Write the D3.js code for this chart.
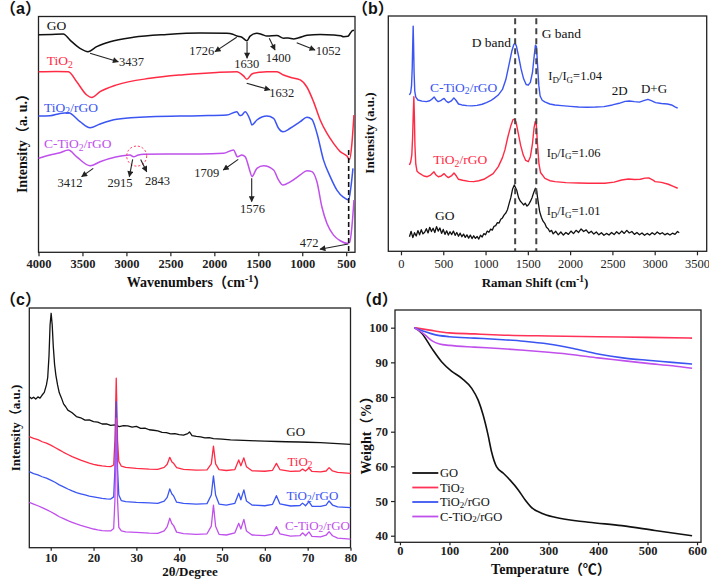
<!DOCTYPE html>
<html><head><meta charset="utf-8">
<script src="https://cdn.jsdelivr.net/npm/d3@7/dist/d3.min.js"></script>
<style>body{margin:0;background:#fff}</style>
</head><body><svg id="c" width="709" height="581"></svg>
<script>
// ---------- colours ----------
const cGO = "#111111", cTiO2 = "#ff2b45", cTrGO = "#3b55f2", cCTrGO = "#c050ec";

// ---------- (a) FTIR : [wavenumber, intensity] ----------
const ftirTicks = [4000,3500,3000,2500,2000,1500,1000,500];
const ftirGO = [[4000,92.2],[3850,92.4],[3718,92.6],[3641,90.0],[3528,86.5],[3437,85.1],[3338,87.2],[3186,89.3],[2921,91.2],[2541,92.4],[2162,93.0],[1858,92.9],[1790,92.5],[1744,91.7],[1687,91.2],[1630,89.7],[1593,91.7],[1516,92.9],[1460,92.4],[1402,91.7],[1288,91.9],[1213,90.8],[1160,90.9],[1099,90.5],[1040,91.0],[946,92.0],[796,92.4],[644,92.2],[560,91.8],[530,91.4],[480,91.6],[454,92.9],[430,94.0],[412,94.2]];
const ftirTiO2 = [[4000,76.6],[3800,76.7],[3660,76.6],[3565,72.3],[3451,66.7],[3395,65.7],[3300,68.1],[3110,71.0],[2731,73.8],[2352,75.3],[1972,76.3],[1744,76.6],[1668,74.8],[1630,73.4],[1573,75.6],[1480,76.4],[1402,76.6],[1288,76.6],[1213,75.2],[1137,74.2],[1023,73.1],[946,70.0],[872,63.9],[796,56.1],[720,50.5],[644,46.2],[568,42.7],[492,40.8],[462,39.4],[435,46.2],[412,58.2]];
const ftirTiO2rGO = [[4000,57.8],[3869,57.9],[3755,58.9],[3660,59.2],[3528,55.4],[3414,52.8],[3300,54.4],[3110,56.4],[2731,57.5],[2162,57.9],[1858,58.2],[1744,59.6],[1710,58.0],[1687,58.2],[1649,59.6],[1593,56.1],[1573,54.0],[1516,56.1],[1402,57.8],[1326,56.8],[1270,52.6],[1220,51.1],[1137,52.6],[1023,55.4],[946,57.3],[890,56.4],[833,50.5],[758,39.1],[682,32.1],[606,26.4],[530,23.3],[473,22.2],[446,27.8],[423,35.6]];
const ftirCTiO2rGO = [[4000,39.9],[3869,41.3],[3755,42.2],[3660,43.4],[3565,40.5],[3412,36.7],[3300,38.4],[3110,40.5],[2958,41.3],[2921,40.5],[2864,41.3],[2807,41.6],[2541,41.7],[2162,41.7],[1896,42.0],[1782,43.4],[1737,40.5],[1687,41.3],[1649,40.5],[1593,34.2],[1573,32.1],[1516,35.6],[1440,36.7],[1326,34.9],[1270,30.7],[1220,28.5],[1137,29.9],[1023,32.8],[946,34.6],[890,34.2],[833,29.9],[777,19.3],[720,12.3],[644,7.3],[568,4.9],[492,3.8],[462,4.1],[435,10.9],[412,22.2]];
// annotations: label, label position, arrow from, arrow to  (data units)
const ftirNotes = [
  ["3437",[2942,79.0],[3414,84.4],[3092,80.8]],
  ["1726",[2144,83.7],[1746,91.2],[1992,85.1]],
  ["1630",[1632,78.0],[1628,89.3],[1628,82.3]],
  ["1400",[1272,80.8],[1375,90.8],[1310,85.8]],
  ["1052",[704,83.7],[1063,88.9],[855,85.8]],
  ["1632",[1234,66.0],[1632,71.7],[1367,68.9]],
  ["3412",[3642,27.8],[3377,35.6],[3509,32.1]],
  ["2915",[3073,27.8],[2929,39.4],[2967,32.1]],
  ["2843",[2646,28.5],[2838,39.4],[2769,34.2]],
  ["1709",[2087,32.1],[1728,39.4],[1898,34.9]],
  ["1576",[1566,16.5],[1575,31.4],[1575,21.5]],
  ["472",[923,2.4],[476,3.5],[798,1.3]]
];
const ftirCircle = [2883,40.8];
const ftirDash = [472,43.4];

// ---------- (b) Raman ----------
const ramanTicks = [0,500,1000,1500,2000,2500,3000,3500];
const ramanGO = [[100,6.2],[120,8.5],[140,5.8],[160,7.9],[180,6.5],[200,8.8],[220,7.0],[240,9.2],[260,7.4],[280,8.1],[300,9.6],[320,7.8],[340,10.2],[360,8.4],[380,9.8],[400,8.0],[420,10.5],[440,8.6],[460,9.9],[480,7.6],[500,9.3],[520,7.2],[540,8.7],[560,6.9],[580,8.3],[600,7.1],[620,8.6],[640,6.8],[660,8.0],[680,6.4],[700,7.7],[720,6.2],[740,7.3],[760,5.9],[780,7.0],[800,5.6],[820,6.9],[840,5.4],[860,6.6],[880,5.5],[900,6.3],[920,5.2],[940,6.8],[960,6.1],[980,7.5],[1000,7.0],[1020,8.6],[1040,8.1],[1060,9.4],[1080,9.0],[1100,10.6],[1120,10.9],[1140,12.2],[1160,12.0],[1180,13.6],[1200,14.2],[1220,15.5],[1240,16.3],[1260,17.8],[1280,20.5],[1300,23.0],[1320,26.5],[1340,28.2],[1355,27.0],[1370,25.8],[1390,22.8],[1410,21.4],[1430,20.6],[1450,19.7],[1470,20.4],[1490,19.2],[1510,19.9],[1530,21.2],[1550,22.8],[1570,25.0],[1590,26.8],[1605,25.5],[1620,21.5],[1640,16.8],[1660,14.5],[1680,12.8],[1700,11.9],[1720,10.2],[1740,9.6],[1760,8.3],[1780,8.9],[1800,7.4],[1830,8.5],[1860,7.0],[1890,8.2],[1920,6.9],[1950,8.0],[1980,7.2],[2010,8.6],[2040,7.5],[2070,8.9],[2100,8.0],[2130,9.5],[2160,8.4],[2190,9.1],[2220,7.7],[2250,8.5],[2280,7.3],[2310,8.2],[2340,7.0],[2370,7.9],[2400,6.8],[2430,7.6],[2460,6.9],[2490,8.0],[2520,7.1],[2550,8.3],[2580,7.4],[2610,8.6],[2640,7.6],[2670,8.9],[2700,7.8],[2730,8.4],[2760,7.2],[2790,8.0],[2820,7.0],[2850,7.8],[2880,6.8],[2910,7.6],[2940,6.9],[2970,7.9],[3000,7.1],[3030,8.2],[3060,7.3],[3090,7.9],[3120,7.0],[3150,7.6],[3180,6.9],[3210,7.7],[3240,7.2],[3270,8.4],[3290,7.9]];
const ramanTiO2rGO = [[100,36.7],[115,38.0],[128,41],[137,48],[145,58],[152,65.7],[158,58],[165,45],[175,37],[190,34],[220,33.1],[270,32.0],[310,31.7],[350,32.4],[372,33.2],[390,33.8],[415,32.4],[441,31.7],[475,32.0],[495,32.6],[510,33.0],[535,32.0],[560,31.3],[600,32.2],[627,33.3],[655,32.0],[680,30.6],[730,30.2],[800,29.7],[860,29.6],[920,30.0],[980,30.6],[1032,31.7],[1090,33.0],[1151,36.0],[1200,39.8],[1229,43.1],[1265,48.8],[1300,53.5],[1325,56.0],[1340,56.2],[1360,55.0],[1387,50.1],[1415,45.0],[1446,40.9],[1475,38.6],[1505,38.1],[1530,40.2],[1555,45.8],[1573,52.3],[1588,55.2],[1600,54.0],[1616,44.5],[1632,37.0],[1650,33.5],[1702,31.0],[1760,30.0],[1821,29.6],[1950,29.2],[2100,29.0],[2215,28.9],[2412,28.9],[2520,29.4],[2610,30.3],[2690,30.7],[2760,30.5],[2830,30.6],[2885,31.1],[2930,31.2],[2980,30.3],[3004,29.6],[3080,29.3],[3161,28.5],[3220,27.6],[3272,26.8]];
const ramanCTiO2rGO = [[100,66.4],[115,67.5],[125,70.5],[133,78],[139,88],[144,95.7],[149,88],[155,76],[163,68],[175,65.5],[200,64.3],[250,63.8],[300,63.6],[340,64.0],[370,64.8],[392,65.6],[415,64.4],[440,63.6],[470,64.0],[490,64.6],[510,65.0],[530,64.0],[560,63.2],[595,63.9],[625,65.2],[650,64.2],[680,62.6],[720,62.2],[780,61.9],[840,61.8],[900,62.0],[960,62.5],[1010,63.2],[1060,64.0],[1100,65.0],[1150,66.4],[1200,68.8],[1240,73.0],[1280,79.8],[1310,85.0],[1335,88.0],[1350,88.4],[1365,87.2],[1390,83.0],[1420,77.5],[1450,73.3],[1480,70.9],[1505,70.6],[1530,71.8],[1555,76.0],[1575,83.0],[1590,87.6],[1602,87.0],[1615,79.0],[1630,70.5],[1645,66.0],[1670,64.2],[1700,63.5],[1760,62.6],[1820,62.2],[1900,61.9],[2000,61.6],[2100,61.3],[2200,61.2],[2300,61.3],[2400,61.5],[2500,62.2],[2580,62.9],[2650,63.7],[2700,63.9],[2760,63.6],[2820,63.4],[2870,64.0],[2920,64.6],[2960,64.0],[3010,63.2],[3080,62.8],[3150,62.6],[3200,62.2],[3240,61.4],[3272,60.8]];
const ramanBands = [1350,1600];

// ---------- (c) XRD ----------
const xrdTicks = [10,20,30,40,50,60,70,80];
const xrdGO = [[5,63.0],[5.5,62.2],[6,62.8],[6.5,62.0],[7,62.9],[7.5,62.4],[8,63.7],[8.5,64.8],[9,67.9],[9.3,71],[9.6,80],[9.85,92.9],[10.1,97.8],[10.35,92.9],[10.6,84],[10.9,76.5],[11.2,72],[11.6,67.9],[12,64.6],[12.5,62.5],[13,60.0],[13.5,58.8],[14,57.4],[15,56.3],[16,54.7],[17,54.2],[18,53.2],[19,53.3],[20,52.6],[21,52.4],[22,51.6],[23,51.7],[24,51.0],[25,51.2],[26,50.5],[27,50.9],[28,50.8],[29,50.3],[30,50.6],[31,49.8],[32,49.9],[33,49.2],[34,49.0],[35,48.7],[36,48.1],[37,48.0],[38,47.5],[39,47.6],[40,47.2],[41,47.0],[42,47.6],[42.4,48.3],[43,46.8],[44,46.4],[45,46.2],[46,45.8],[47,45.9],[48,45.5],[50,45.3],[52,45.0],[55,44.8],[58,44.6],[60,44.5],[63,44.3],[65,44.2],[68,44.1],[70,44.0],[73,43.8],[75,43.6],[78,43.3],[80,43.1]];
const xrdTiO2 = [[5,46.3],[6,45.6],[7,45.1],[8,44.2],[9,43.6],[10,42.8],[11,41.8],[12,40.8],[13,39.8],[14,38.9],[15,38.0],[16,37.3],[17,36.5],[18,35.9],[19,35.3],[20,34.8],[21,34.4],[22,34.1],[23,33.9],[24,33.8],[24.7,34.5],[25.0,45],[25.3,70.7],[25.6,45],[25.9,36],[26.5,34.0],[27.5,33.5],[30,33.1],[33,32.8],[35,32.7],[36.5,33.5],[37.2,34.8],[37.8,37.7],[38.3,35.8],[38.7,35.2],[39.4,33.4],[41,32.7],[44,32.4],[46.5,32.5],[47.5,35],[48.0,42.4],[48.5,35],[49.3,32.6],[51,32.2],[53,32.6],[53.9,36.6],[54.4,34.2],[55.1,37.5],[55.7,33.8],[57,32.1],[60,31.9],[61.8,32.3],[62.7,35.2],[63.5,32.6],[66,31.8],[68.2,32.0],[68.8,32.8],[69.5,32.0],[70.3,33.2],[71.0,31.8],[73,31.6],[74.3,32.0],[75.0,33.4],[75.8,32.0],[77,31.4],[80,31.0]];
const xrdTiO2rGO = [[5,31.7],[6,30.9],[7,30.4],[8,29.6],[9,29.0],[10,28.2],[11,27.3],[12,26.2],[13,25.4],[14,24.5],[15,23.7],[16,23.0],[17,22.5],[18,22.0],[19,21.5],[20,21.2],[21,20.9],[22,20.6],[23,20.4],[24,20.3],[24.7,21.2],[25.0,33],[25.3,60.9],[25.6,33],[25.9,22],[26.5,19.6],[27.5,19.2],[30,18.9],[33,18.7],[35,18.5],[36.5,19.4],[37.2,21.0],[37.8,24.5],[38.3,22.4],[38.7,21.6],[39.4,19.0],[41,18.5],[44,18.2],[46.5,18.4],[47.5,22],[48.0,30.0],[48.5,22],[49.3,18.2],[51,17.8],[53,18.5],[53.9,22.7],[54.4,20.0],[55.1,24.1],[55.7,19.5],[57,17.8],[60,17.5],[61.8,18.1],[62.7,21.7],[63.5,18.3],[66,17.4],[68.2,17.6],[68.8,18.6],[69.5,17.5],[70.3,19.2],[71.0,17.3],[73,17.2],[74.3,17.8],[75.0,19.5],[75.8,17.8],[77,17.0],[80,16.7]];
const xrdCTiO2rGO = [[5,18.9],[6,18.2],[7,17.5],[8,16.7],[9,15.9],[10,15.0],[11,14.0],[12,12.9],[13,12.1],[14,11.3],[15,10.6],[16,9.9],[17,9.3],[18,8.8],[19,8.3],[20,7.8],[21,7.4],[22,7.1],[23,7.0],[24,7.0],[24.7,8.0],[25.0,20],[25.3,54.0],[25.6,20],[25.9,8.5],[26.5,7.0],[27.5,6.6],[30,6.4],[33,6.1],[35,6.0],[36.5,7.0],[37.2,8.8],[37.8,12.3],[38.3,10.0],[38.7,9.2],[39.4,6.5],[41,5.9],[44,5.6],[46.5,5.8],[47.5,9],[48.0,17.8],[48.5,9],[49.3,5.6],[51,5.3],[53,6.2],[53.9,10.2],[54.4,7.8],[55.1,11.8],[55.7,7.0],[57,5.3],[60,5.0],[61.8,5.7],[62.7,8.8],[63.5,5.8],[66,4.8],[68.2,5.0],[68.8,6.2],[69.5,5.0],[70.3,6.6],[71.0,4.7],[73,4.5],[74.3,5.2],[75.0,6.7],[75.8,5.0],[77,4.0],[80,3.6]];

// ---------- (d) TGA ----------
const tgaXTicks = [0,100,200,300,400,500,600];
const tgaYTicks = [40,50,60,70,80,90,100];
const tgaGO = [[29,100],[44,98.4],[64,94.1],[84,90.2],[104,87.5],[125,85.4],[145,82.5],[158,79.1],[168,74.8],[178,69.0],[185,64.2],[195,59.9],[209,58.0],[222,56.1],[239,53.2],[253,50.3],[266,48.1],[286,46.5],[313,45.3],[381,43.9],[448,42.9],[515,41.5],[590,40.0]];
const tgaTiO2 = [[29,100],[60,99.3],[100,98.5],[150,98.2],[200,97.9],[300,97.6],[400,97.4],[500,97.2],[590,97.0]];
const tgaTiO2rGO = [[29,100],[50,98.9],[70,98.0],[100,97.4],[150,97.0],[200,96.6],[250,96.1],[300,95.3],[350,94.0],[400,92.4],[450,91.3],[500,90.6],[550,90.0],[590,89.5]];
const tgaCTiO2rGO = [[29,100],[50,98.0],[65,96.2],[80,95.3],[100,94.9],[150,94.4],[200,94.0],[250,93.5],[300,92.9],[350,92.2],[400,91.3],[450,90.5],[500,89.7],[550,89.0],[590,88.3]];
const tgaLegend = ["GO","TiO2","TiO2/rGO","C-TiO2/rGO"];

// ================= drawing =================
const svg = d3.select("#c");
svg.append("rect").attr("width",709).attr("height",581).attr("fill","#fff");
const SERIF = "'Liberation Serif','Times New Roman','Noto Sans CJK SC',serif";
const SANS = "'Liberation Sans',Arial,'Noto Sans CJK SC',sans-serif";

svg.append("defs").append("marker").attr("id","arr")
  .attr("viewBox","0 0 10 10").attr("refX",9).attr("refY",5)
  .attr("markerWidth",7).attr("markerHeight",6).attr("markerUnits","userSpaceOnUse")
  .attr("orient","auto").append("path").attr("d","M0,0L10,5L0,10z").attr("fill","#222");

// rich text: parts = array of [string, shift] shift 0 normal, 1 subscript, -1 superscript
function rich(g, x, y, parts, o){
  const t = g.append("text").attr("x",x).attr("y",y)
    .attr("font-family",o.family||SERIF).attr("font-size",o.size||13)
    .attr("font-weight",o.weight||"normal").attr("fill",o.fill||"#111")
    .attr("text-anchor",o.anchor||"start");
  if(o.rotate) t.attr("transform",`rotate(-90,${x},${y})`);
  let cur = 0;
  const sub = o.sub===undefined ? 2.5 : o.sub;
  parts.forEach(p=>{
    const s = typeof p === "string" ? [p,0] : p;
    const target = s[1]===1 ? sub : s[1]===-1 ? -5 : 0;
    const ts = t.append("tspan").text(s[0]);
    if(target!==cur){ ts.attr("dy",target-cur); cur=target; }
    if(s[1]!==0) ts.attr("font-size",(o.size||13)*0.72);
  });
  return t;
}
function chem(name){ // "TiO2/rGO" -> parts with subscript 2
  const out=[]; const i=name.indexOf("O2");
  if(i<0) return [name];
  out.push(name.slice(0,i+1)); out.push(["2",1]); const rest=name.slice(i+2);
  if(rest) out.push(rest); return out;
}
function frame(box){
  svg.append("rect").attr("x",box.l).attr("y",box.t).attr("width",box.r-box.l).attr("height",box.b-box.t)
    .attr("fill","none").attr("stroke","#222").attr("stroke-width",1.3);
}
function xAxis(x, box, ticks, bold, pad, size){
  const g = svg.append("g").attr("transform",`translate(0,${box.b})`)
    .call(d3.axisBottom(x).tickValues(ticks).tickSize(size||4).tickSizeOuter(0).tickPadding(pad||3).tickFormat(d3.format("d")));
  g.select(".domain").remove();
  g.selectAll("line").attr("stroke","#222").attr("stroke-width",1.2);
  g.selectAll("text").attr("font-family",SERIF).attr("font-size",12.5).attr("font-weight",bold?"bold":"normal").attr("fill","#222");
}
function curve(x,y,data,color,w,curveType){
  svg.append("path").datum(data).attr("fill","none").attr("stroke",color).attr("stroke-width",w||1.4)
    .attr("stroke-linejoin","round")
    .attr("d", d3.line().x(d=>x(d[0])).y(d=>y(d[1])).curve(curveType||d3.curveLinear));
}
function panelLetter(x,y,ch){
  svg.append("text").attr("x",x).attr("y",y).attr("font-family",SANS).attr("font-weight","bold")
    .attr("font-size",16).attr("fill","#111").text("（"+ch+"）");
}

// ---------- panel (a) ----------
{
  const box = {l:38.5, r:355, t:16.5, b:252.3};
  const x = d3.scaleLinear().domain([4000,400]).range([box.l,box.r]);
  const y = d3.scaleLinear().domain([0,100]).range([box.b,box.t]);
  frame(box); xAxis(x,box,ftirTicks,true,3);
  curve(x,y,ftirGO,cGO,1.5,d3.curveMonotoneX);
  curve(x,y,ftirTiO2,cTiO2,1.5,d3.curveMonotoneX);
  curve(x,y,ftirTiO2rGO,cTrGO,1.5,d3.curveMonotoneX);
  curve(x,y,ftirCTiO2rGO,cCTrGO,1.5,d3.curveMonotoneX);
  svg.append("line").attr("x1",x(ftirDash[0])).attr("x2",x(ftirDash[0])).attr("y1",y(ftirDash[1])).attr("y2",y(0))
    .attr("stroke","#111").attr("stroke-width",1.6).attr("stroke-dasharray","5,3");
  svg.append("circle").attr("cx",x(ftirCircle[0])).attr("cy",y(ftirCircle[1])).attr("r",10)
    .attr("fill","none").attr("stroke","#ff3355").attr("stroke-width",1).attr("stroke-dasharray","2,2");
  ftirNotes.forEach(n=>{
    svg.append("line").attr("x1",x(n[2][0])).attr("y1",y(n[2][1])).attr("x2",x(n[3][0])).attr("y2",y(n[3][1]))
      .attr("stroke","#222").attr("stroke-width",1.1).attr("marker-end","url(#arr)");
    rich(svg,x(n[1][0]),y(n[1][1]),[n[0]],{size:12.5,anchor:"middle",fill:"#222"});
  });
  const g = svg.append("g");
  rich(g,x(3907),y(94.3),["GO"],{size:13.5,fill:cGO});
  rich(g,x(3907),y(79.4),chem("TiO2"),{size:13.5,fill:cTiO2});
  rich(g,x(3937),y(59.6),chem("TiO2/rGO"),{size:13.5,fill:cTrGO});
  rich(g,x(3937),y(44.1),chem("C-TiO2/rGO"),{size:13.5,fill:cCTrGO});
  rich(svg,197,287,["Wavenumbers（cm",["-1",-1],"）"],{size:14,weight:"bold",anchor:"middle"});
  rich(svg,27,140,["Intensity（a. u.）"],{size:14,weight:"bold",anchor:"middle",rotate:true});
  panelLetter(0,14,"a");
}

// ---------- panel (b) ----------
{
  const box = {l:388.3, r:706.7, t:16, b:251.3};
  const x = d3.scaleLinear().domain([-150,3615]).range([box.l,box.r]);
  const y = d3.scaleLinear().domain([0,100]).range([box.b,box.t]);
  frame(box); xAxis(x,box,ramanTicks,false,4);
  curve(x,y,ramanGO,cGO,1.3);
  curve(x,y,ramanTiO2rGO,cTiO2,1.4);
  curve(x,y,ramanCTiO2rGO,cTrGO,1.4);
  ramanBands.forEach(b=>{
    svg.append("line").attr("x1",x(b)).attr("x2",x(b)).attr("y1",y(99)).attr("y2",y(0))
      .attr("stroke","#444").attr("stroke-width",2).attr("stroke-dasharray","6,4");
  });
  rich(svg,x(836),y(87.0),["D band"],{size:13.5});
  rich(svg,x(1664),y(90.5),["G band"],{size:13.5});
  rich(svg,x(1742),y(72.8),["I",["D",1],"/I",["G",1],"=1.04"],{size:12.5});
  rich(svg,x(1723),y(40.2),["I",["D",1],"/I",["G",1],"=1.06"],{size:12.5});
  rich(svg,x(1723),y(15.4),["I",["D",1],"/I",["G",1],"=1.01"],{size:12.5});
  rich(svg,x(2492),y(66.4),["2D"],{size:13});
  rich(svg,x(2838),y(67.1),["D+G"],{size:13});
  rich(svg,x(343),y(67.8),chem("C-TiO2/rGO"),{size:13.5,fill:cTrGO});
  rich(svg,x(382),y(37.0),chem("TiO2/rGO"),{size:13.5,fill:cTiO2});
  rich(svg,x(402),y(13.3),["GO"],{size:13.5,fill:cGO});
  rich(svg,535,287,["Raman Shift (cm",["-1",-1],")"],{size:13,weight:"bold",anchor:"middle"});
  rich(svg,374,133,["Intensity (a.u.)"],{size:13,weight:"bold",anchor:"middle",rotate:true});
  panelLetter(352,14,"b");
}

// ---------- panel (c) ----------
{
  const box = {l:29.3, r:350.5, t:308, b:547.7};
  const x = d3.scaleLinear().domain([5,80]).range([box.l,box.r]);
  const y = d3.scaleLinear().domain([0,100]).range([box.b,box.t]);
  frame(box); xAxis(x,box,xrdTicks,true,2,3);
  curve(x,y,xrdGO,cGO,1.3);
  curve(x,y,xrdTiO2,cTiO2,1.3);
  curve(x,y,xrdTiO2rGO,cTrGO,1.3);
  curve(x,y,xrdCTiO2rGO,cCTrGO,1.3);
  rich(svg,x(67.2),y(46.6),["GO"],{size:13,anchor:"middle",fill:cGO});
  rich(svg,x(68.2),y(34.1),chem("TiO2"),{size:13,anchor:"middle",fill:cTiO2});
  rich(svg,x(71.1),y(20.1),chem("TiO2/rGO"),{size:13,anchor:"middle",fill:cTrGO});
  rich(svg,x(72.3),y(7.4),chem("C-TiO2/rGO"),{size:13,anchor:"middle",fill:cCTrGO});
  rich(svg,190,576,["2θ/Degree"],{size:13,weight:"bold",anchor:"middle"});
  rich(svg,20,428,["Intensity（a.u.)"],{size:13,weight:"bold",anchor:"middle",rotate:true});
  panelLetter(0,305,"c");
}

// ---------- panel (d) ----------
{
  const box = {l:395, r:701, t:310, b:542.3};
  const x = d3.scaleLinear().domain([-10,608]).range([box.l,box.r]);
  const y = d3.scaleLinear().domain([38.1,105.1]).range([box.b,box.t]);
  frame(box); xAxis(x,box,tgaXTicks,true,1,3);
  const gy = svg.append("g").attr("transform",`translate(${box.l},0)`)
    .call(d3.axisLeft(y).tickValues(tgaYTicks).tickSize(4).tickSizeOuter(0).tickPadding(3));
  gy.select(".domain").remove();
  gy.selectAll("line").attr("stroke","#222").attr("stroke-width",1.2);
  gy.selectAll("text").attr("font-family",SERIF).attr("font-size",12.5).attr("font-weight","bold").attr("fill","#222");
  const series = [[tgaGO,cGO],[tgaTiO2,"#ff3358"],[tgaTiO2rGO,cTrGO],[tgaCTiO2rGO,cCTrGO]];
  series.forEach(s=>curve(x,y,s[0],s[1],1.6,d3.curveMonotoneX));
  tgaLegend.forEach((name,i)=>{
    const yy = 473 + i*14.5;
    svg.append("line").attr("x1",412.3).attr("x2",438.3).attr("y1",yy).attr("y2",yy)
      .attr("stroke",series[i][1]).attr("stroke-width",1.8);
    rich(svg,440,yy+4,chem(name),{size:12.5,fill:"#111",sub:1.5});
  });
  rich(svg,551,574,["Temperature（℃）"],{size:14,weight:"bold",anchor:"middle"});
  rich(svg,371,432,["Weight（%）"],{size:14,weight:"bold",anchor:"middle",rotate:true});
  panelLetter(356,305,"d");
}
</script></body></html>
